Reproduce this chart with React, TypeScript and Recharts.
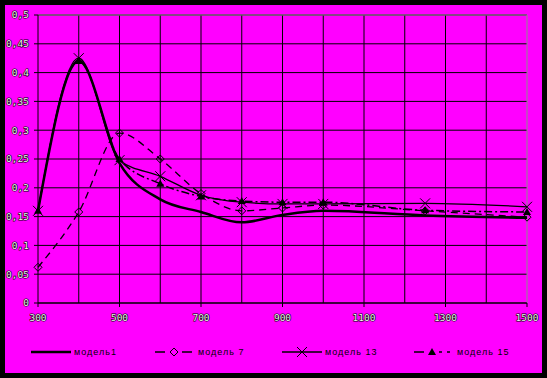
import React from 'react'
import {
  CartesianGrid,
  Line,
  LineChart,
  ReferenceLine,
  XAxis,
  YAxis,
} from 'recharts'

const X_VALUES = [300, 400, 500, 600, 700, 800, 900, 1000, 1250, 1500]
const MODEL_1 = [0.16, 0.42, 0.243, 0.18, 0.158, 0.14, 0.153, 0.16, 0.152, 0.148]
const MODEL_7 = [0.062, 0.158, 0.295, 0.25, 0.19, 0.16, 0.165, 0.17, 0.16, 0.149]
const MODEL_13 = [0.16, 0.425, 0.248, 0.22, 0.187, 0.175, 0.172, 0.172, 0.173, 0.167]
const MODEL_15 = [0.16, 0.42, 0.25, 0.207, 0.185, 0.177, 0.175, 0.175, 0.161, 0.158]

const X_TICKS = [300, 500, 700, 900, 1100, 1300, 1500]
const X_MINOR = [400, 600, 800, 1000, 1200, 1400]
const Y_TICKS = [0, 0.05, 0.1, 0.15, 0.2, 0.25, 0.3, 0.35, 0.4, 0.45, 0.5]

const LABELS = ['модель1', 'модель 7', 'модель 13', 'модель 15']

const MAGENTA = '#FF00FF'
const GREY = '#8c8c8c'

const data = X_VALUES.map((x, i) => ({
  x,
  m1: MODEL_1[i],
  m7: MODEL_7[i],
  m13: MODEL_13[i],
  m15: MODEL_15[i],
}))

const tickStyle = {
  fill: '#f2f2f2',
  stroke: '#000',
  strokeWidth: 1.2,
  paintOrder: 'stroke',
  fontSize: 9.5,
  fontFamily: '"DejaVu Sans Mono", monospace',
} as const

function Diamond({ cx, cy }: any) {
  if (cx == null || cy == null) return null
  const s = 4
  return (
    <path
      d={`M${cx},${cy - s}L${cx + s},${cy}L${cx},${cy + s}L${cx - s},${cy}Z`}
      fill="none"
      stroke="#000"
      strokeWidth={1}
    />
  )
}

function Cross({ cx, cy }: any) {
  if (cx == null || cy == null) return null
  const s = 5
  return (
    <path
      d={`M${cx - s},${cy - s}L${cx + s},${cy + s}M${cx - s},${cy + s}L${cx + s},${cy - s}`}
      stroke="#000"
      strokeWidth={1}
    />
  )
}

function Triangle({ cx, cy }: any) {
  if (cx == null || cy == null) return null
  const s = 4
  return (
    <path
      d={`M${cx},${cy - s}L${cx + s},${cy + s - 1}L${cx - s},${cy + s - 1}Z`}
      fill="#000"
    />
  )
}

function LegendItem({ left, label, kind }: { left: number; label: string; kind: number }) {
  return (
    <div style={{ position: 'absolute', left, top: 345, display: 'flex', alignItems: 'center' }}>
      <svg width={42} height={14}>
        {kind === 0 && <line x1={0} y1={7} x2={40} y2={7} stroke="#000" strokeWidth={2.5} />}
        {kind === 1 && (
          <g>
            <line x1={0} y1={7} x2={10} y2={7} stroke="#000" strokeWidth={1.5} />
            <line x1={27} y1={7} x2={37} y2={7} stroke="#000" strokeWidth={1.5} />
            <Diamond cx={19} cy={7} />
          </g>
        )}
        {kind === 2 && (
          <g>
            <line x1={0} y1={7} x2={40} y2={7} stroke="#000" strokeWidth={1.5} />
            <Cross cx={20} cy={7} />
          </g>
        )}
        {kind === 3 && (
          <g>
            <line x1={0} y1={7} x2={10} y2={7} stroke="#000" strokeWidth={1.5} />
            <line x1={25} y1={7} x2={28} y2={7} stroke="#000" strokeWidth={1.5} />
            <line x1={33} y1={7} x2={36} y2={7} stroke="#000" strokeWidth={1.5} />
            <Triangle cx={18} cy={7} />
          </g>
        )}
      </svg>
      <span
        style={{
          fontFamily: '"Liberation Sans", Arial, sans-serif',
          fontSize: 9,
          letterSpacing: 1,
          color: '#000',
          marginLeft: 1,
        }}
      >
        {label}
      </span>
    </div>
  )
}

export default function App() {
  return (
    <div style={{ position: 'absolute', left: 0, top: 0, width: 547, height: 378, background: '#000' }}>
      <div style={{ position: 'absolute', left: 5, top: 5, width: 537, height: 368, background: MAGENTA }} />
      <div style={{ position: 'absolute', left: 0, top: 0 }}>
        <LineChart
          width={547}
          height={378}
          data={data}
          margin={{ top: 15, right: 20, bottom: 45, left: 0 }}
        >
          <CartesianGrid stroke="#000" vertical={false} horizontal />
          {X_MINOR.map((x) => (
            <ReferenceLine key={x} x={x} stroke="#000" strokeWidth={1} />
          ))}
          {X_TICKS.slice(1, -1).map((x) => (
            <ReferenceLine key={`t${x}`} x={x} stroke="#000" strokeWidth={1} />
          ))}
          <ReferenceLine y={0.5} stroke={GREY} strokeWidth={1} />
          <ReferenceLine x={1500} stroke={GREY} strokeWidth={1} />
          <XAxis
            dataKey="x"
            type="number"
            domain={[300, 1500]}
            ticks={X_TICKS}
            tick={tickStyle}
            tickSize={4}
            tickMargin={7}
            stroke="#000"
            height={30}
            interval={0}
          />
          <YAxis
            type="number"
            domain={[0, 0.5]}
            ticks={Y_TICKS}
            tick={tickStyle}
            tickFormatter={(v: number) => String(v).replace('.', ',')}
            tickSize={4}
            tickMargin={5}
            stroke="#000"
            width={38}
            interval={0}
          />
          <Line
            type="monotone"
            dataKey="m7"
            stroke="#000"
            strokeWidth={1.3}
            strokeDasharray="7 5"
            dot={<Diamond />}
            isAnimationActive={false}
          />
          <Line
            type="monotone"
            dataKey="m15"
            stroke="#000"
            strokeWidth={1.5}
            strokeDasharray="8 3 2 3"
            dot={<Triangle />}
            isAnimationActive={false}
          />
          <Line
            type="monotone"
            dataKey="m13"
            stroke="#000"
            strokeWidth={1.3}
            dot={<Cross />}
            isAnimationActive={false}
          />
          <Line
            type="monotone"
            dataKey="m1"
            stroke="#000"
            strokeWidth={2.5}
            dot={false}
            isAnimationActive={false}
          />
        </LineChart>
      </div>
      <LegendItem left={31} label={LABELS[0]} kind={0} />
      <LegendItem left={155} label={LABELS[1]} kind={1} />
      <LegendItem left={282} label={LABELS[2]} kind={2} />
      <LegendItem left={414} label={LABELS[3]} kind={3} />
    </div>
  )
}
